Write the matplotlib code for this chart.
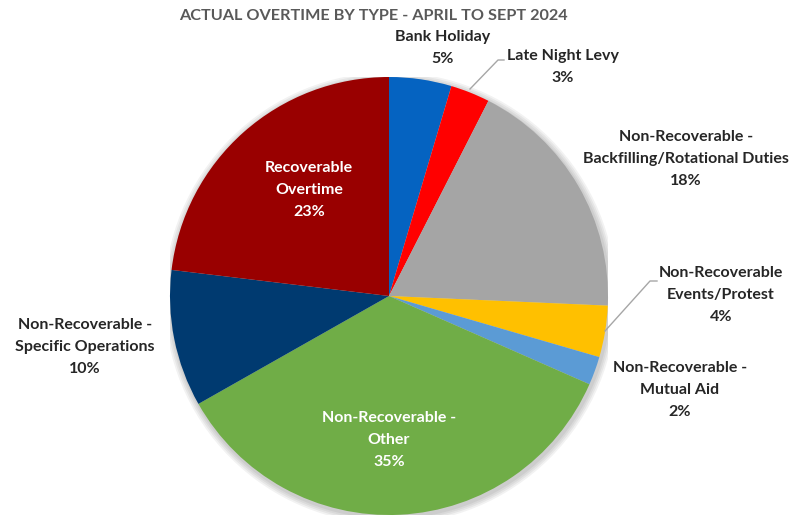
import matplotlib
matplotlib.use("Agg")
import matplotlib.pyplot as plt
from matplotlib.lines import Line2D
from matplotlib.patches import Circle

categories = [
    "Bank Holiday",
    "Late Night Levy",
    "Non-Recoverable -\nBackfilling/Rotational Duties",
    "Non-Recoverable\nEvents/Protest",
    "Non-Recoverable -\nMutual Aid",
    "Non-Recoverable -\nOther",
    "Non-Recoverable -\nSpecific Operations",
    "Recoverable\nOvertime",
]
values = [4.6, 2.9, 18.2, 3.8, 2.1, 35.2, 10.1, 23.1]
colors = ["#0563C1", "#FF0000", "#A5A5A5", "#FFC000", "#5B9BD5",
          "#70AD47", "#003A70", "#990000"]
title = "ACTUAL OVERTIME BY TYPE - APRIL TO SEPT 2024"

W, H = 796, 516
fig = plt.figure(figsize=(W / 100, H / 100), dpi=100)
plt.rcParams['font.family'] = ['Lato', 'DejaVu Sans']

cx, cy, r = 389, 296, 219
ax = fig.add_axes([(cx - r) / W, (H - cy - r) / H, 2 * r / W, 2 * r / H])
ax.set_xlim(-1, 1)
ax.set_ylim(-1, 1)
ax.set_aspect('equal')
ax.axis('off')

# soft shadow
for i in range(4):
    ax.add_patch(Circle((0.006, -0.01), 1.0 + 0.008 * (4 - i), color="black",
                        alpha=0.05, lw=0, zorder=0))

ax.pie(values, colors=colors, startangle=90, counterclock=False,
       radius=1.0, wedgeprops=dict(linewidth=0), frame=False)
ax.set_xlim(-1, 1)
ax.set_ylim(-1, 1)

def fx(x):
    return x / W

def fy(y):
    return 1 - y / H

fs = 11.5
fig.text(fx(373), fy(16), title, ha="center", va="center", fontsize=11.7,
         fontweight="bold", color="#595959")

pcts = [f"{round(v):d}%" for v in values]
label_pos = [
    (443, 48, "#262626"),
    (563, 67, "#262626"),
    (686, 159, "#262626"),
    (721, 295, "#262626"),
    (680, 390, "#262626"),
    (389, 440, "white"),
    (85, 347, "#262626"),
    (309, 190, "white"),
]
for cat, pct, (x, y, c) in zip(categories, pcts, label_pos):
    fig.text(fx(x), fy(y), cat + "\n" + pct, ha="center", va="center",
             fontsize=fs, fontweight="bold", color=c, linespacing=1.7)

# leader lines
for pts in [[(470, 89), (498, 60), (504, 60)],
            [(605, 331), (650, 281), (657, 281)]]:
    xs = [fx(p[0]) for p in pts]
    ys = [fy(p[1]) for p in pts]
    fig.add_artist(Line2D(xs, ys, color="#A6A6A6", lw=1.0))

fig.savefig("out.png", dpi=100, facecolor="white")
